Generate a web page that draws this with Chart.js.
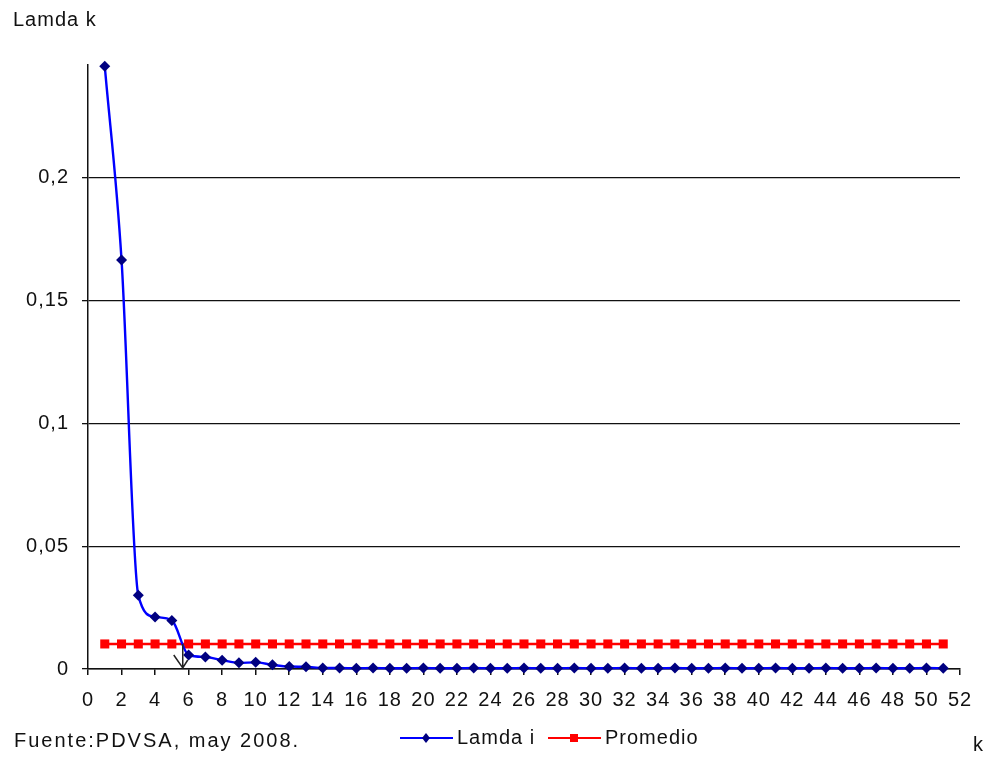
<!DOCTYPE html>
<html>
<head>
<meta charset="utf-8">
<title>Lamda k</title>
<script src="https://cdn.jsdelivr.net/npm/chart.js@4.4.1/dist/chart.umd.min.js"></script>
<style>
  html, body { margin: 0; padding: 0; background: #fff; }
  #wrap { width: 987px; height: 757px; position: relative; }
</style>
</head>
<body>
<div id="wrap"><canvas id="c" width="987" height="757"></canvas></div>
<script>
// k index of each eigenvalue
const kValues = [1, 2, 3, 4, 5, 6, 7, 8, 9, 10, 11, 12, 13, 14, 15, 16, 17, 18, 19, 20,
  21, 22, 23, 24, 25, 26, 27, 28, 29, 30, 31, 32, 33, 34, 35, 36, 37, 38, 39, 40,
  41, 42, 43, 44, 45, 46, 47, 48, 49, 50, 51];

// Lamda i series
const lamdaI = [0.2455, 0.1666, 0.0300, 0.0212, 0.0198, 0.0057, 0.0049, 0.0036, 0.0025, 0.0027,
  0.0017, 0.0010, 0.0009, 0.0004, 0.0004, 0.0003, 0.0004, 0.0003, 0.0003, 0.0004,
  0.0003, 0.0003, 0.0004, 0.0003, 0.0003, 0.0004, 0.0003, 0.0003, 0.0004, 0.0003,
  0.0003, 0.0004, 0.0003, 0.0003, 0.0004, 0.0003, 0.0003, 0.0004, 0.0003, 0.0003,
  0.0004, 0.0003, 0.0003, 0.0004, 0.0003, 0.0003, 0.0004, 0.0003, 0.0003, 0.0004, 0.0003];

// Promedio (mean of the eigenvalues)
const promedio = [0.0102, 0.0102, 0.0102, 0.0102, 0.0102, 0.0102, 0.0102, 0.0102, 0.0102, 0.0102,
  0.0102, 0.0102, 0.0102, 0.0102, 0.0102, 0.0102, 0.0102, 0.0102, 0.0102, 0.0102,
  0.0102, 0.0102, 0.0102, 0.0102, 0.0102, 0.0102, 0.0102, 0.0102, 0.0102, 0.0102,
  0.0102, 0.0102, 0.0102, 0.0102, 0.0102, 0.0102, 0.0102, 0.0102, 0.0102, 0.0102,
  0.0102, 0.0102, 0.0102, 0.0102, 0.0102, 0.0102, 0.0102, 0.0102, 0.0102, 0.0102, 0.0102];

// Axis ticks
const xTicks = [0, 2, 4, 6, 8, 10, 12, 14, 16, 18, 20, 22, 24, 26, 28, 30, 32, 34, 36, 38,
  40, 42, 44, 46, 48, 50, 52];
const yTicks = [0, 0.05, 0.1, 0.15, 0.2];
const yMax = 0.246;

// Where the curve crosses the mean (marked with an arrow)
const cutK = 5.65;

const seriesNames = ['Lamda i', 'Promedio'];
const FONT = "'Liberation Sans', Arial, sans-serif";

const textPlugin = {
  id: 'chartTexts',
  beforeDraw(chart) {
    chart.ctx.letterSpacing = '1px';
  },
  afterDatasetsDraw(chart) {
    const { ctx, scales } = chart;
    const x = scales.x.getPixelForValue(cutK);
    const y0 = scales.y.getPixelForValue(promedio[0]);
    const y1 = scales.y.getPixelForValue(0);
    ctx.save();
    ctx.strokeStyle = '#222';
    ctx.lineWidth = 1.5;
    ctx.beginPath();
    ctx.moveTo(x, y0);
    ctx.lineTo(x, y1 - 1);
    ctx.moveTo(x - 9, y1 - 14);
    ctx.lineTo(x, y1 - 1);
    ctx.lineTo(x + 5, y1 - 9);
    ctx.stroke();
    ctx.restore();
  },
  afterDraw(chart) {
    const ctx = chart.ctx;
    ctx.save();
    ctx.letterSpacing = '1px';
    ctx.fillStyle = '#111';
    ctx.font = '20px ' + FONT;
    ctx.textBaseline = 'middle';
    ctx.textAlign = 'left';
    ctx.fillText('Lamda k', 13, 20);
    ctx.letterSpacing = '2px';
    ctx.fillText('Fuente:PDVSA, may 2008.', 14, 741);
    ctx.letterSpacing = '1px';
    ctx.fillText('k', 973, 745);

    // legend
    const items = [
      { x: 400, color: '#0000ff', mark: '#000080', style: 'diamond', label: seriesNames[0] },
      { x: 548, color: '#ff0000', mark: '#ff0000', style: 'square', label: seriesNames[1] }
    ];
    const ly = 738;
    items.forEach(it => {
      ctx.strokeStyle = it.color;
      ctx.lineWidth = 2;
      ctx.beginPath();
      ctx.moveTo(it.x, ly);
      ctx.lineTo(it.x + 53, ly);
      ctx.stroke();
      const cx = it.x + 26;
      ctx.fillStyle = it.mark;
      if (it.style === 'diamond') {
        ctx.beginPath();
        ctx.moveTo(cx, ly - 5);
        ctx.lineTo(cx + 4, ly);
        ctx.lineTo(cx, ly + 5);
        ctx.lineTo(cx - 4, ly);
        ctx.closePath();
        ctx.fill();
      } else {
        ctx.fillRect(cx - 4, ly - 4, 8, 8);
      }
      ctx.fillStyle = '#111';
      ctx.fillText(it.label, it.x + 57, ly);
    });
    ctx.restore();
  }
};

new Chart(document.getElementById('c'), {
  type: 'line',
  data: {
    datasets: [
      {
        label: seriesNames[0],
        data: kValues.map((k, i) => ({ x: k, y: lamdaI[i] })),
        borderColor: '#0000ff',
        borderWidth: 2.4,
        backgroundColor: '#000080',
        pointBackgroundColor: '#000080',
        pointBorderColor: '#000080',
        pointBorderWidth: 0,
        pointStyle: 'rectRot',
        pointRadius: 5.5,
        cubicInterpolationMode: 'monotone',
        fill: false,
        clip: 10
      },
      {
        label: seriesNames[1],
        data: kValues.map((k, i) => ({ x: k, y: promedio[i] })),
        borderColor: '#ff0000',
        borderWidth: 2.4,
        backgroundColor: '#ff0000',
        pointBackgroundColor: '#ff0000',
        pointBorderColor: '#ff0000',
        pointBorderWidth: 0,
        pointStyle: 'rect',
        pointRadius: 6.4,
        tension: 0,
        fill: false,
        clip: 10
      }
    ]
  },
  options: {
    responsive: false,
    animation: false,
    devicePixelRatio: 1,
    layout: { padding: { left: 0, right: 27, top: 65, bottom: 48 } },
    plugins: {
      legend: { display: false },
      tooltip: { enabled: false },
      title: { display: false }
    },
    scales: {
      x: {
        type: 'linear',
        min: xTicks[0],
        max: xTicks[xTicks.length - 1],
        afterFit(scale) { scale.height = 40; },
        afterBuildTicks(scale) { scale.ticks = xTicks.map(v => ({ value: v })); },
        grid: {
          display: true,
          drawOnChartArea: false,
          drawTicks: true,
          tickLength: 6,
          color: '#111',
          lineWidth: 1.5
        },
        border: { display: true, color: '#111', width: 1.5 },
        ticks: {
          autoSkip: false,
          maxRotation: 0,
          padding: 13,
          color: '#111',
          font: { family: FONT, size: 20 },
          callback: v => String(v)
        }
      },
      y: {
        type: 'linear',
        min: 0,
        max: yMax,
        afterFit(scale) { scale.width = 88; },
        afterBuildTicks(scale) { scale.ticks = yTicks.map(v => ({ value: v })); },
        grid: {
          display: true,
          drawOnChartArea: true,
          drawTicks: true,
          tickLength: 6,
          color: '#111',
          lineWidth: 1.3
        },
        border: { display: true, color: '#111', width: 1.5 },
        ticks: {
          padding: 13,
          color: '#111',
          font: { family: FONT, size: 20 },
          callback: v => (Math.round(v * 100) / 100).toString().replace('.', ',')
        }
      }
    }
  },
  plugins: [textPlugin]
});
</script>
</body>
</html>
